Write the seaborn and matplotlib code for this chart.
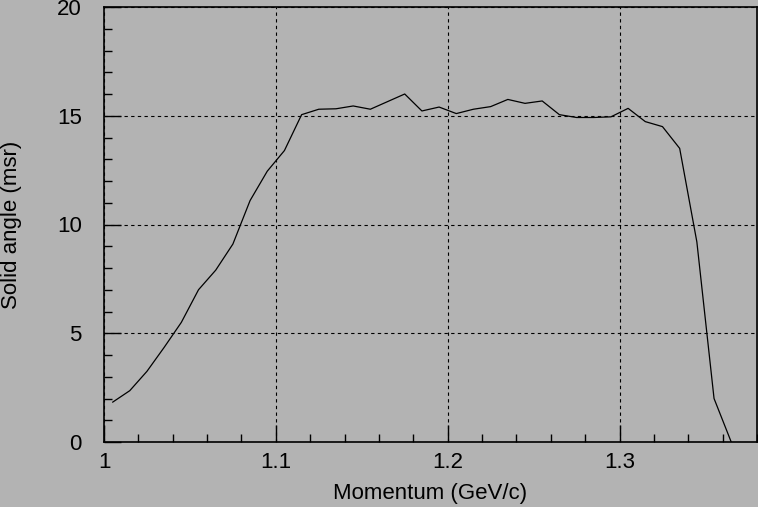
import matplotlib
matplotlib.use("Agg")
import matplotlib.pyplot as plt
import seaborn as sns
import pandas as pd
from matplotlib.ticker import MultipleLocator

momentum = [1.005, 1.015, 1.025, 1.035, 1.045, 1.055, 1.065, 1.075, 1.085, 1.095,
            1.105, 1.115, 1.125, 1.135, 1.145, 1.155, 1.165, 1.175, 1.185, 1.195,
            1.205, 1.215, 1.225, 1.235, 1.245, 1.255, 1.265, 1.275, 1.285, 1.295,
            1.305, 1.315, 1.325, 1.335, 1.345, 1.355, 1.365]
solid_angle = [1.83, 2.36, 3.25, 4.35, 5.5, 7.0, 7.9, 9.1, 11.1, 12.45,
               13.4, 15.05, 15.3, 15.32, 15.45, 15.3, 15.65, 16.0, 15.22, 15.4,
               15.1, 15.3, 15.42, 15.75, 15.57, 15.68, 15.05, 14.92, 14.92, 14.95,
               15.34, 14.73, 14.5, 13.5, 9.2, 2.0, 0.0]
x_ticks = [1.0, 1.1, 1.2, 1.3]
x_tick_labels = ["1", "1.1", "1.2", "1.3"]
y_ticks = [0, 5, 10, 15, 20]

df = pd.DataFrame({"Momentum": momentum, "SolidAngle": solid_angle})

bg = "#b3b3b3"
sns.set_theme(style="ticks")
plt.rcParams["font.family"] = ["Liberation Sans", "DejaVu Sans"]

fig = plt.figure(figsize=(7.58, 5.07), dpi=100, facecolor=bg)
ax = fig.add_axes([104 / 758, 65 / 507, 653 / 758, 435 / 507])
ax.set_facecolor(bg)

sns.lineplot(data=df, x="Momentum", y="SolidAngle", ax=ax, color="black",
             linewidth=0.9, estimator=None, sort=False)

ax.set_xlim(1.0, 1.38)
ax.set_ylim(0, 20)
ax.set_xticks(x_ticks)
ax.set_xticklabels(x_tick_labels)
ax.set_yticks(y_ticks)
ax.xaxis.set_minor_locator(MultipleLocator(0.02))
ax.yaxis.set_minor_locator(MultipleLocator(1))

ax.tick_params(axis="both", which="major", direction="in", length=12, width=1,
               color="black", labelsize=16, labelcolor="black")
ax.tick_params(axis="x", which="major", pad=7)
ax.tick_params(axis="y", which="major", pad=16)
ax.tick_params(axis="both", which="minor", direction="in", length=6, width=1,
               color="black")
ax.tick_params(top=False, right=False, which="both")

ax.grid(True, which="major", color="black", linestyle=(0, (3, 3)), linewidth=0.8)

for s in ax.spines.values():
    s.set_color("black")
    s.set_linewidth(1.2)
    s.set_visible(True)

ax.set_xlabel("Momentum (GeV/c)", fontsize=16, color="black", va="center")
ax.set_ylabel("Solid angle (msr)", fontsize=16, color="black", va="center")
ax.xaxis.set_label_coords(0.5, (442 - 494) / 435)
ax.yaxis.set_label_coords((12 - 104) / 653, 0.5)

fig.savefig("out.png", dpi=100, facecolor=bg)
